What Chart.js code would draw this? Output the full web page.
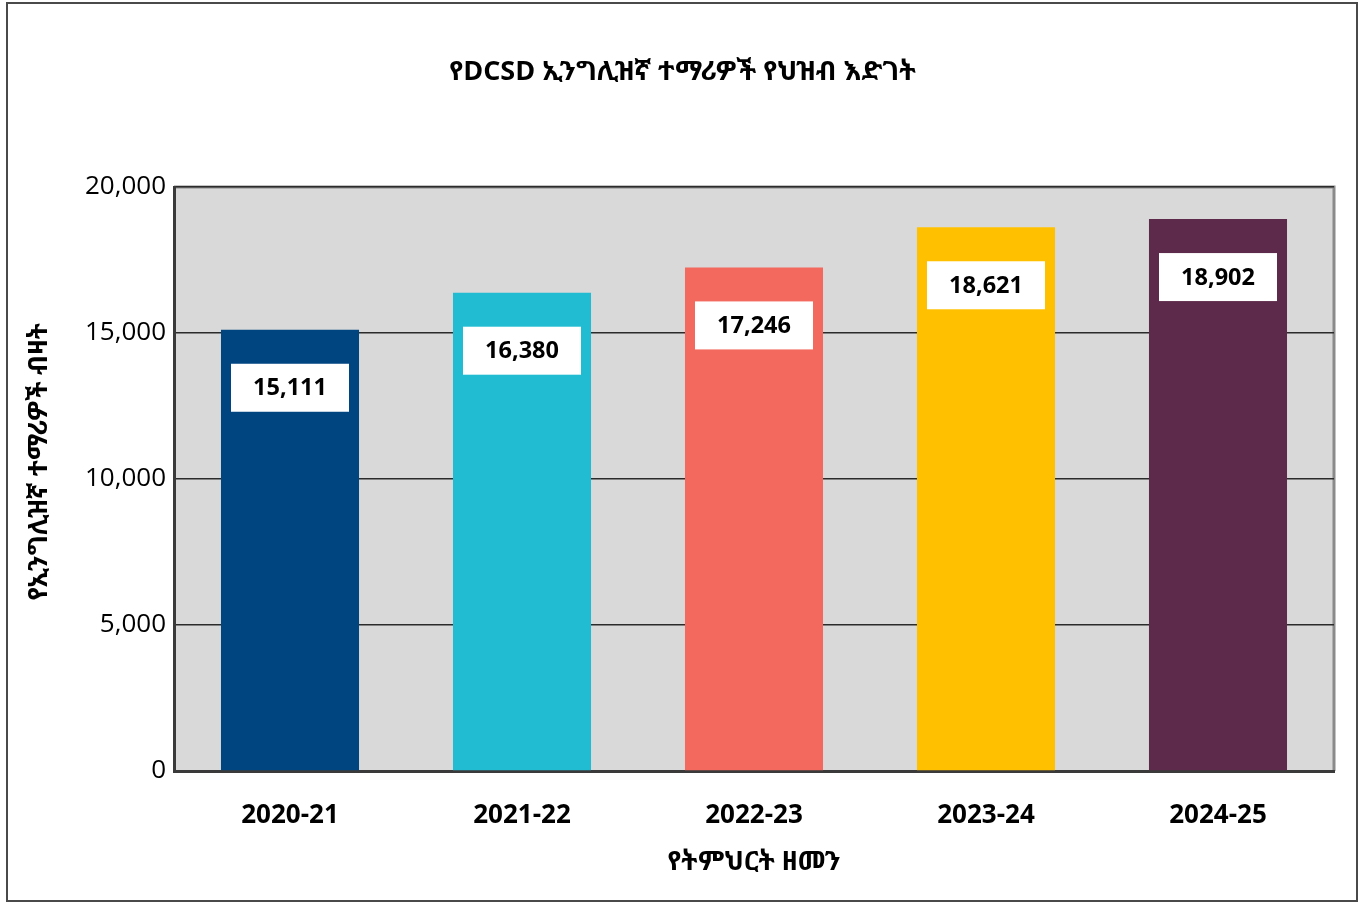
<!DOCTYPE html>
<html>
<head>
<meta charset="utf-8">
<script src="https://cdn.jsdelivr.net/npm/chart.js@4/dist/chart.umd.min.js"></script>
<style>
  html, body { margin: 0; padding: 0; background: #fff; }
  #wrap { position: relative; width: 1359px; height: 902px; }
  #frame { position: absolute; left: 6px; top: 2px; width: 1348px; height: 896px;
           border: 2px solid #4a4a4a; pointer-events: none; }
</style>
</head>
<body>
<div id="wrap">
  <canvas id="chart" width="1359" height="902"></canvas>
  <div id="frame"></div>
</div>
<script>
const SCHOOL_YEARS = ['2020-21', '2021-22', '2022-23', '2023-24', '2024-25'];
const STUDENT_COUNTS = [15111, 16380, 17246, 18621, 18902];
const BAR_COLORS = ['#004480', '#21BCD2', '#F4695E', '#FFC000', '#5E2A4B'];
const Y_TICKS = [0, 5000, 10000, 15000, 20000];

const CHART_TITLE = 'የDCSD ኢንግሊዝኛ ተማሪዎች የህዝብ እድገት';
const X_TITLE = 'የትምህርት ዘመን';
const Y_TITLE = 'የኢንግሊዝኛ ተማሪዎች ብዛት';

const FONT = '"Open Sans", "Noto Sans Ethiopic", "Abyssinica SIL", "DejaVu Sans", sans-serif';
const ETH_FONT = '"Noto Sans Ethiopic", "Abyssinica SIL", "DejaVu Sans", "Open Sans", sans-serif';

function fmt(n){
    return n.toLocaleString('en-US');
}

// grey plot background + light outline on top/right
const plotBox = {
    id: 'plotBox',
    beforeDraw(chart){
        const {ctx, chartArea: a} = chart;
        ctx.save();
        ctx.fillStyle = '#d9d9d9';
        ctx.fillRect(a.left, a.top, a.right - a.left, a.bottom - a.top);
        ctx.strokeStyle = '#8a8a8a';
        ctx.lineWidth = 3;
        ctx.beginPath();
        ctx.moveTo(a.left, a.top);
        ctx.lineTo(a.right, a.top);
        ctx.lineTo(a.right, a.bottom);
        ctx.stroke();
        ctx.restore();
    }
};

// chart title centred on the whole page, y title a bit above the plot middle
const titles = {
    id: 'titles',
    afterDraw(chart){
        const ctx = chart.ctx;
        ctx.save();
        ctx.fillStyle = '#000';
        ctx.textAlign = 'center';
        ctx.textBaseline = 'middle';
        ctx.font = 'bold 27px ' + ETH_FONT;
        ctx.fillText(CHART_TITLE, chart.width / 2 + 3, 72);
        ctx.translate(40, 462);
        ctx.rotate(-Math.PI / 2);
        ctx.font = 'bold 26px ' + ETH_FONT;
        ctx.fillText(Y_TITLE, 0, 0);
        ctx.restore();
    }
};

// white boxes with the values, inside each bar
const valueBoxes = {
    id: 'valueBoxes',
    afterDatasetsDraw(chart){
        const ctx = chart.ctx;
        const meta = chart.getDatasetMeta(0);
        ctx.save();
        meta.data.forEach((bar, i) => {
            const w = 118, h = 48;
            const top = bar.y + 34;
            ctx.fillStyle = '#ffffff';
            ctx.fillRect(bar.x - w / 2, top, w, h);
            ctx.fillStyle = '#000';
            ctx.font = 'bold 23.5px ' + FONT;
            ctx.textAlign = 'center';
            ctx.textBaseline = 'middle';
            ctx.fillText(fmt(STUDENT_COUNTS[i]), bar.x, top + h / 2 + 1);
        });
        ctx.restore();
    }
};

new Chart(document.getElementById('chart'), {
    type: 'bar',
    data: {
        labels: SCHOOL_YEARS,
        datasets: [{
            data: STUDENT_COUNTS,
            backgroundColor: BAR_COLORS,
            categoryPercentage: 1,
            barPercentage: 0.595
        }]
    },
    plugins: [plotBox, valueBoxes, titles],
    options: {
        responsive: false,
        animation: false,
        layout: { padding: { left: 0, right: 25, top: 187, bottom: 0 } },
        plugins: {
            legend: { display: false },
            tooltip: { enabled: false },
            title: { display: false }
        },
        scales: {
            x: {
                grid: { display: false, drawTicks: false },
                border: { display: true, color: '#3a3a3a', width: 3 },
                ticks: {
                    color: '#000',
                    padding: 29,
                    font: { family: FONT, size: 26, weight: 'bold' }
                },
                title: {
                    display: true,
                    text: X_TITLE,
                    color: '#000',
                    font: { family: ETH_FONT, size: 26.5, weight: 'bold', lineHeight: 1.2 },
                    padding: { top: 0, bottom: 24 }
                },
                afterFit(scale){ scale.height = 131; }
            },
            y: {
                min: 0,
                max: 20000,
                afterBuildTicks(scale){
                    scale.ticks = Y_TICKS.map(v => ({ value: v }));
                },
                grid: { color: '#2b2b2b', lineWidth: 1.5, drawTicks: false },
                border: { display: true, color: '#3a3a3a', width: 3 },
                ticks: {
                    color: '#000',
                    padding: 8,
                    font: { family: FONT, size: 26 },
                    callback: v => fmt(v)
                },
                title: { display: false },
                afterFit(scale){ scale.width = 174; }
            }
        }
    }
});
</script>
</body>
</html>
